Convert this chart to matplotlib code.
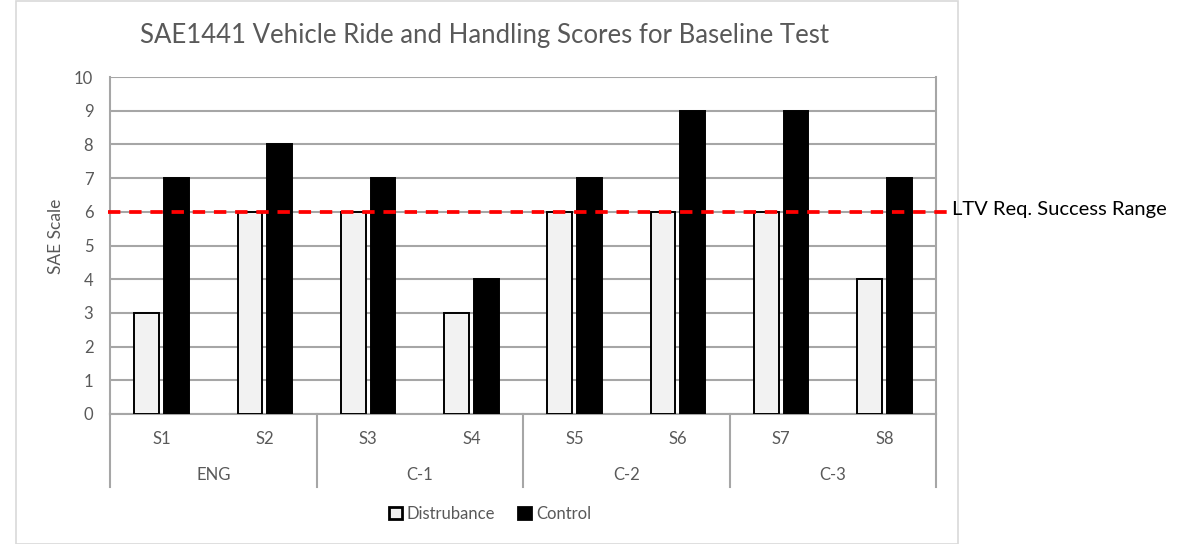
import matplotlib
matplotlib.use("Agg")
import matplotlib.pyplot as plt
from matplotlib.patches import Rectangle
from matplotlib.lines import Line2D
import matplotlib.transforms as mtransforms

plt.rcParams['font.family'] = ['Lato', 'DejaVu Sans']

subjects = ["S1", "S2", "S3", "S4", "S5", "S6", "S7", "S8"]
groups = ["ENG", "C-1", "C-2", "C-3"]
disturbance = [3, 6, 6, 3, 6, 6, 6, 4]
control = [7, 8, 7, 4, 7, 9, 9, 7]
threshold = 6
threshold_label = "LTV Req. Success Range"
title = "SAE1441 Vehicle Ride and Handling Scores for Baseline Test"

W, H = 1193, 544
fig = plt.figure(figsize=(W / 100, H / 100), dpi=100)

# chart area border
fig.patches.append(Rectangle((16 / W, 0.5 / H), (958 - 16) / W, (H - 1.5) / H,
                             transform=fig.transFigure, fill=False,
                             edgecolor="#D9D9D9", linewidth=1.2))

left, right, top, bottom = 110, 936, 77, 414
ax = fig.add_axes([left / W, 1 - bottom / H, (right - left) / W, (bottom - top) / H])

gray_txt = "#595959"
grid_c = "#A6A6A6"
x = list(range(len(subjects)))
bw = 0.24
off = 0.145
ax.bar([i - off for i in x], disturbance, width=bw, color="#F2F2F2",
       edgecolor="black", linewidth=1.4, zorder=3, label="Distrubance")
ax.bar([i + off for i in x], control, width=bw, color="black",
       edgecolor="black", linewidth=1.4, zorder=3, label="Control")

ax.set_xlim(-0.5, len(subjects) - 0.5)
ax.set_ylim(0, 10)
ax.set_yticks(range(0, 11))
ax.tick_params(axis="y", length=0, labelsize=12, colors=gray_txt, pad=12)
ax.set_xticks([])
ax.grid(axis="y", color=grid_c, linewidth=1.5, zorder=0)
ax.spines["top"].set_visible(False)
for s in ["left", "right", "bottom"]:
    ax.spines[s].set_color(grid_c)
    ax.spines[s].set_linewidth(1.5)
ax.set_ylabel("SAE Scale", fontsize=12.5, color=gray_txt)
ax.yaxis.set_label_coords(-0.056, (414 - 236) / 337)

# category axis (two-level)
trans = mtransforms.blended_transform_factory(ax.transData, ax.transAxes)
for i, s in enumerate(subjects):
    ax.text(i, -0.074, s, transform=trans, ha="center", va="center",
            fontsize=12, color=gray_txt)
for g, name in enumerate(groups):
    ax.text(2 * g + 0.5, -0.181, name, transform=trans, ha="center", va="center",
            fontsize=12, color=gray_txt)
for b in [-0.5, 1.5, 3.5, 5.5, 7.5]:
    ax.add_line(Line2D([b, b], [0, -0.217], transform=trans, color=grid_c,
                       linewidth=1.5, clip_on=False))

# threshold line
x0 = (108 - left) / (right - left)
x_end = (953 - left) / (right - left)
ax.add_line(Line2D([x0, x_end], [threshold, threshold],
                   transform=mtransforms.blended_transform_factory(ax.transAxes, ax.transData),
                   color="#FF0000", linewidth=2.7, linestyle=(0, (3.3, 2.35)),
                   clip_on=False, zorder=5))
fig.text(952 / W, 1 - 210 / H, threshold_label, ha="left", va="center",
         fontsize=14.5, color="black")

fig.text(485 / W, 1 - 36 / H, title, ha="center", va="center",
         fontsize=18.5, color=gray_txt)

leg = fig.legend(loc="center", bbox_to_anchor=(490 / W, 1 - 514 / H), ncol=2,
                 frameon=False, fontsize=12, handlelength=0.75, handleheight=0.75,
                 handletextpad=0.3, columnspacing=1.4, labelcolor=gray_txt)
for h in leg.legend_handles:
    h.set_linewidth(2)

fig.savefig("out.png", dpi=100)
